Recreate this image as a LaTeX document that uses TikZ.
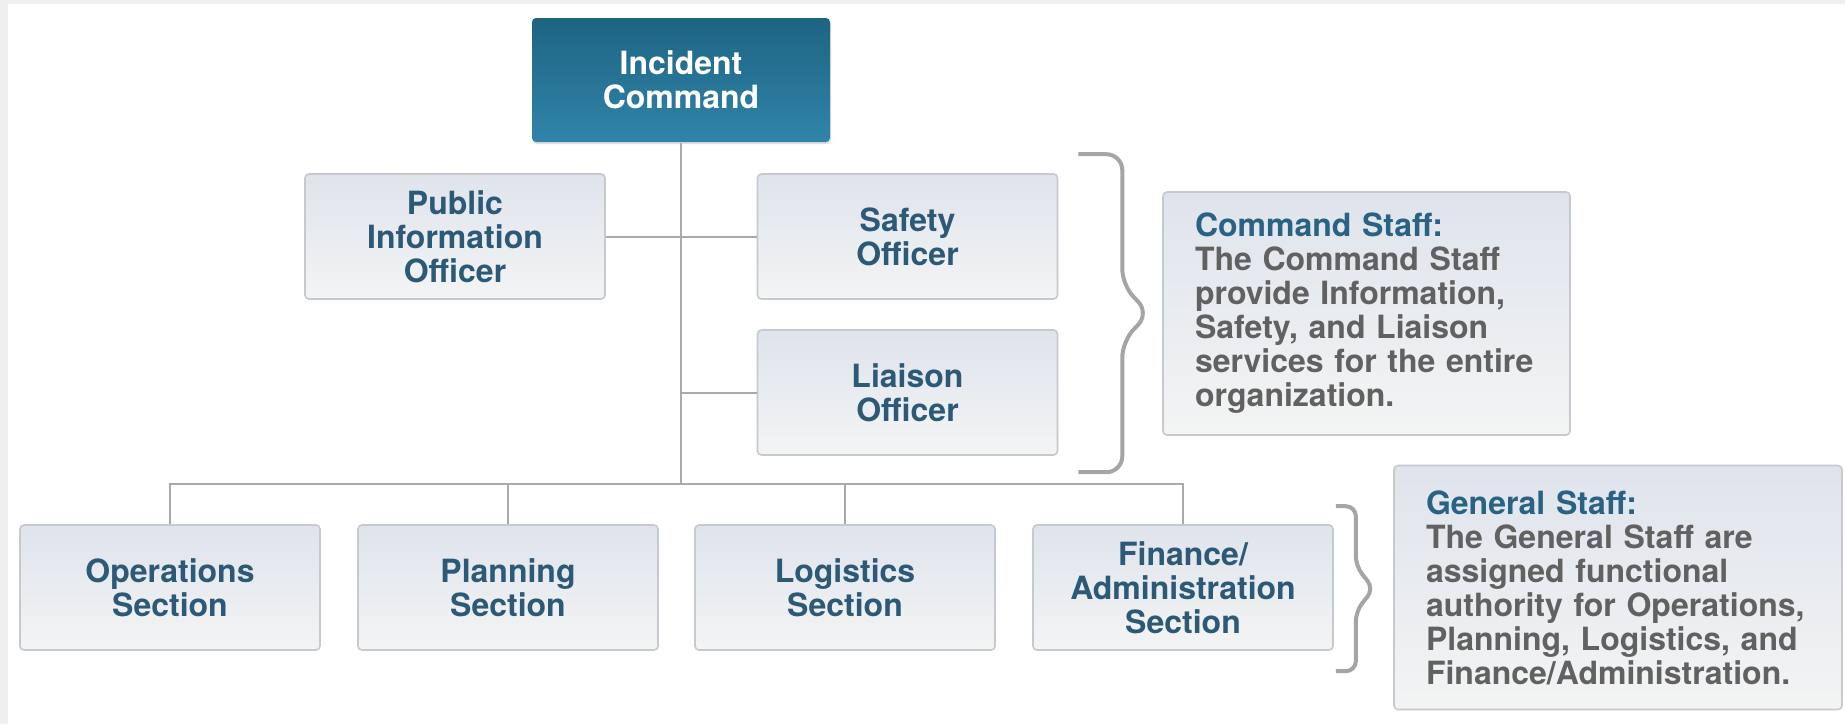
\documentclass[tikz,border=0pt]{standalone}
\usepackage{fontspec}
\setmainfont{TeX Gyre Heros}
\usepackage{tikz}
\usetikzlibrary{positioning,shadows}

\definecolor{icTop}{HTML}{1E6483}
\definecolor{icBottom}{HTML}{3084A9}
\definecolor{boxTop}{HTML}{DFE4EC}
\definecolor{boxBottom}{HTML}{F3F4F4}
\definecolor{boxLine}{HTML}{C6C9CE}
\definecolor{unitText}{HTML}{2C5975}
\definecolor{noteHead}{HTML}{2A6283}
\definecolor{noteText}{HTML}{616161}
\definecolor{linkGray}{HTML}{AAAAAA}
\definecolor{braceGray}{HTML}{A5A5A5}
\definecolor{frameGray}{HTML}{EFEFEF}

\begin{document}
\begin{tikzpicture}[on grid, font=\fontsize{16}{17}\selectfont\bfseries]
  \tikzstyle{unit}=[rectangle, rounded corners=2pt, draw=boxLine, line width=0.8pt,
                    top color=boxTop, bottom color=boxBottom, text=unitText, align=center,
                    minimum width=150pt, minimum height=62.5pt, inner sep=0pt]
  \tikzstyle{chief}=[unit, draw=none, top color=icTop, bottom color=icBottom, text=white,
                     minimum width=149pt, minimum height=62pt,
                     drop shadow={opacity=0.25, shadow xshift=0.5pt, shadow yshift=-1pt}]
  \tikzstyle{note}=[unit, text=noteText, align=left, inner xsep=16pt]
  \tikzstyle{link}=[draw=linkGray, line width=1pt]
  \tikzstyle{bracket}=[draw=braceGray, line width=2pt, rounded corners=8pt]

  % page and its grey frame
  \fill[frameGray] (0,0) rectangle (922.5pt,-362pt);
  \fill[white] (4pt,-2pt) rectangle (922.5pt,-362pt);
  \useasboundingbox (0,0) rectangle (922.5pt,-362pt);

  \node[chief] (IC) at (340.5pt,-40pt) {Incident\\Command};
  \node[unit]  (PIO)     [below left=78.25pt and 113pt of IC]    {Public\\Information\\Officer};
  \node[unit]  (safety)  [below right=78.25pt and 113.25pt of IC] {Safety\\Officer};
  \node[unit]  (liaison) [below=78pt of safety]                  {Liaison\\Officer};

  \node[unit] (ops)       [below left=253.75pt and 255.5pt of IC] {Operations\\Section};
  \node[unit] (planning)  [right=169pt of ops]                    {Planning\\Section};
  \node[unit] (logistics) [right=168.5pt of planning]             {Logistics\\Section};
  \node[unit] (finance)   [right=169pt of logistics]              {Finance/\\Administration\\Section};

  \node[note, text width=171.5pt, minimum height=121.5pt] (command)
       [below right=116.75pt and 342.75pt of IC]
       {{\color{noteHead}Command Staff:}\\The Command Staff\\provide Information,\\Safety, and Liaison\\services for the entire\\organization.};
  \node[note, text width=192pt, minimum height=122pt] (general)
       [right=217.5pt of finance]
       {{\color{noteHead}General Staff:}\\The General Staff are\\assigned functional\\authority for Operations,\\Planning, Logistics, and\\Finance/Administration.};

  % lines of command
  \coordinate[below=202pt of IC] (bus);
  \draw[link] (IC) -- (bus);
  \draw[link] (PIO) -- (safety);
  \draw[link] (liaison.west) -- (liaison.west -| IC);
  \draw[link] (ops) |- (bus) -| (finance);
  \draw[link] (planning) -- (planning |- bus);
  \draw[link] (logistics) -- (logistics |- bus);

  % braces
  \draw[bracket] ([xshift=10pt,yshift=9.5pt]safety.north east) -- ++(22pt,0) -- ++(0,-65.5pt)
        -- ++(13.5pt,-14pt) -- ++(-13.5pt,-14pt) -- ++(0,-65.5pt) -- ++(-22pt,0);
  \draw[bracket, rounded corners=5pt] ([xshift=1pt,yshift=9pt]finance.north east) -- ++(10pt,0) -- ++(0,-30pt)
        -- ++(9pt,-11.25pt) -- ++(-9pt,-11.25pt) -- ++(0,-30pt) -- ++(-10pt,0);
\end{tikzpicture}
\end{document}
